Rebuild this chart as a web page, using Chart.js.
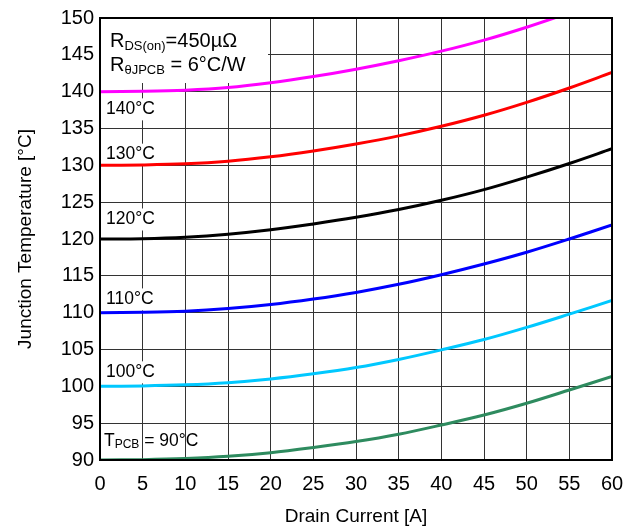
<!DOCTYPE html>
<html>
<head>
<meta charset="utf-8">
<script src="https://cdn.jsdelivr.net/npm/chart.js@4"></script>
<style>
  html, body { margin: 0; padding: 0; background: #fff; }
  #wrap { width: 636px; height: 531px; }
</style>
</head>
<body>
<div id="wrap"><canvas id="tjChart"></canvas></div>
<script>
// drain current in A
var current = [0, 5, 10, 15, 20, 25, 30, 35, 40, 45, 50, 55, 60];
// junction temperature in °C, one list per PCB temperature
var tj90  = [90.0, 90.05, 90.2, 90.5, 91.0, 91.7, 92.5, 93.5, 94.75, 96.1, 97.7, 99.5, 101.35];
var tj100 = [100.0, 100.05, 100.2, 100.5, 101.0, 101.7, 102.55, 103.65, 104.95, 106.35, 108.0, 109.8, 111.65];
var tj110 = [110.0, 110.05, 110.2, 110.55, 111.1, 111.85, 112.75, 113.85, 115.15, 116.6, 118.2, 120.0, 121.9];
var tj120 = [120.0, 120.05, 120.25, 120.65, 121.25, 122.05, 122.95, 124.0, 125.25, 126.7, 128.4, 130.25, 132.25];
var tj130 = [130.0, 130.05, 130.2, 130.55, 131.15, 131.95, 132.9, 134.0, 135.3, 136.8, 138.55, 140.5, 142.6];
var tj140 = [140.0, 140.05, 140.2, 140.55, 141.2, 142.05, 143.05, 144.2, 145.5, 147.0, 148.75, 150.7];

var curveColors = ["#2e8b5f", "#00c8ff", "#0000ff", "#000000", "#ff0000", "#ff00ff"];
var curveNames = ["90°C", "100°C", "110°C", "120°C", "130°C", "140°C"];
// where the curve labels sit (y in °C)
var labelY = [92.6, 101.9, 111.8, 122.65, 131.45, 137.6];

var FONT = "'Liberation Sans', Arial, Helvetica, sans-serif";

function pts(ys) {
    return ys.map(function (y, i) { return { x: current[i], y: y }; });
}

function subText(ctx, x, y, parts) {
    // parts: [text, size, dy]
    parts.forEach(function (p) {
        ctx.font = p[1] + "px " + FONT;
        ctx.fillText(p[0], x, y + p[2]);
        x += ctx.measureText(p[0]).width;
    });
}

var notesPlugin = {
    id: 'notes',
    beforeDatasetsDraw: function (chart) {
        var ctx = chart.ctx;
        var xs = chart.scales.x, ys = chart.scales.y;
        var left = chart.chartArea.left, top = chart.chartArea.top;
        ctx.save();
        // info box
        ctx.fillStyle = "#fff";
        ctx.fillRect(left, top, 168, 65);
        // curve labels
        ctx.textBaseline = "middle";
        ctx.font = "17.5px " + FONT;
        for (var i = 1; i < curveNames.length; i++) {
            var yy = ys.getPixelForValue(labelY[i]);
            var w = ctx.measureText(curveNames[i]).width;
            ctx.fillStyle = "#fff";
            ctx.fillRect(left + 3, yy - 11, w + 6, 22);
            ctx.fillStyle = "#000";
            ctx.fillText(curveNames[i], xs.getPixelForValue(0) + 6, yy);
        }
        ctx.fillStyle = "#000";
        var y0 = ys.getPixelForValue(labelY[0]);
        subText(ctx, left + 4, y0, [["T", 17.5, 0], ["PCB", 12, 4], [" = 90°C", 17.5, 0]]);
        subText(ctx, left + 10, top + 23, [["R", 20, 0], ["DS(on)", 13, 5], ["=450µΩ", 20, 0]]);
        subText(ctx, left + 10, top + 47, [["R", 20, 0], ["θJPCB", 13, 5], [" = 6°C/W", 20, 0]]);
        ctx.restore();
    },
    afterDatasetsDraw: function (chart) {
        var a = chart.chartArea;
        var ctx = chart.ctx;
        ctx.save();
        ctx.strokeStyle = "#000";
        ctx.lineWidth = 2;
        ctx.strokeRect(a.left, a.top, a.right - a.left, a.bottom - a.top);
        ctx.restore();
    }
};

var series = [tj90, tj100, tj110, tj120, tj130, tj140];

new Chart(document.getElementById('tjChart'), {
    type: 'line',
    data: {
        datasets: series.map(function (s, i) {
            return {
                label: curveNames[i],
                data: pts(s),
                borderColor: curveColors[i],
                borderWidth: 3,
                pointRadius: 0,
                fill: false,
                tension: 0.35
            };
        })
    },
    options: {
        responsive: true,
        maintainAspectRatio: false,
        animation: false,
        layout: { padding: { top: 15, right: 24, left: 0, bottom: 0 } },
        plugins: { legend: { display: false }, tooltip: { enabled: false } },
        scales: {
            x: {
                type: 'linear', min: 0, max: 60,
                afterFit: function (s) { s.height = 71; },
                ticks: { stepSize: 5, padding: 12, color: "#000", font: { family: FONT, size: 20 } },
                grid: { color: "#333", lineWidth: 1, drawTicks: false },
                border: { color: "#000", width: 2 },
                title: { display: true, text: "Drain Current [A]", color: "#000",
                         font: { family: FONT, size: 19 }, padding: { top: 0, bottom: 3 } }
            },
            y: {
                min: 90, max: 150,
                afterFit: function (s) { s.width = 100; },
                ticks: { stepSize: 5, padding: 6, color: "#000", font: { family: FONT, size: 20 } },
                grid: { color: "#333", lineWidth: 1, drawTicks: false },
                border: { color: "#000", width: 2 },
                title: { display: true, text: "Junction Temperature [°C]", color: "#000",
                         font: { family: FONT, size: 19 }, padding: { top: 14, bottom: 0 } }
            }
        }
    },
    plugins: [notesPlugin]
});
</script>
</body>
</html>
